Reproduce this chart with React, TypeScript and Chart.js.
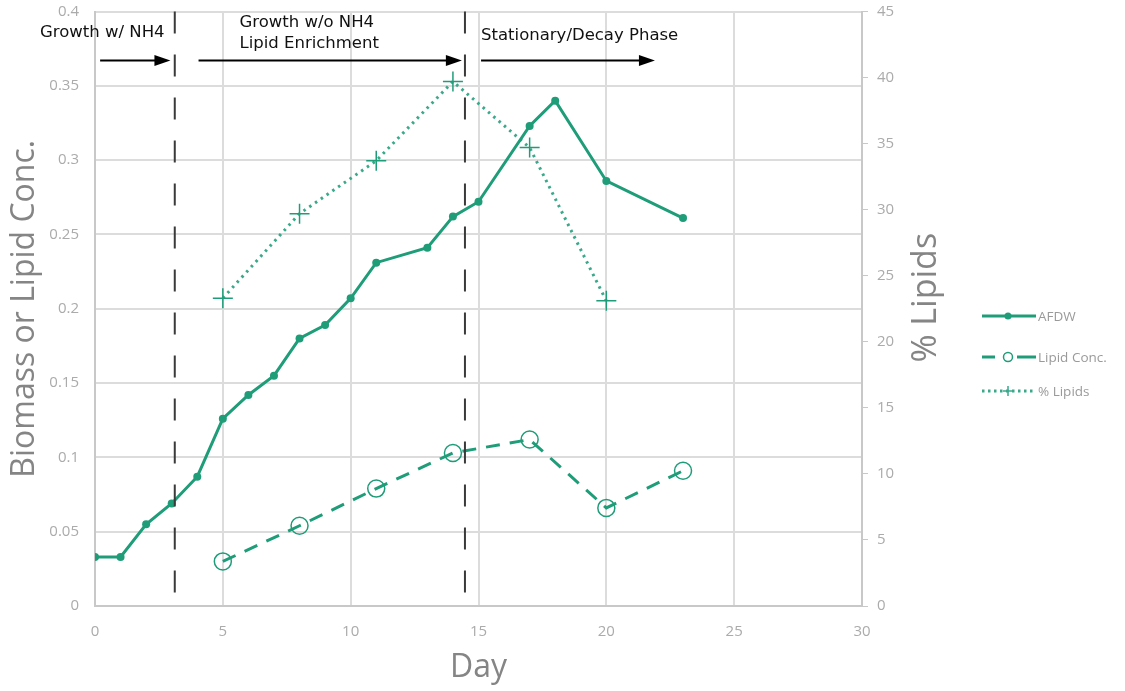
import React, { useEffect, useRef } from 'react';
import { Chart, registerables } from 'chart.js';

Chart.register(...registerables);

// ---- data ----
const afdwDays = [0, 1, 2, 3, 4, 5, 6, 7, 8, 9, 10, 11, 13, 14, 15, 17, 18, 20, 23];
const afdwValues = [0.033, 0.033, 0.055, 0.069, 0.087, 0.126, 0.142, 0.155, 0.18, 0.189, 0.207, 0.231, 0.241, 0.262, 0.272, 0.323, 0.34, 0.286, 0.261];
const lipidDays = [5, 8, 11, 14, 17, 20, 23];
const lipidConcValues = [0.03, 0.054, 0.079, 0.103, 0.112, 0.066, 0.091];
const pctDays = [5, 8, 11, 14, 17, 20];
const pctLipidValues = [23.3, 29.7, 33.7, 39.7, 34.7, 23.1];
const seriesNames = ['AFDW', 'Lipid Conc.', '% Lipids'];
const phaseBoundaries = [3.12, 14.47];
const phaseArrows = [
  [0.2, 2.95],
  [4.05, 14.35],
  [15.1, 21.9],
];
const phaseTexts = [
  { lines: ['Growth w/ NH4'], x: -2.15, y: [0.386] },
  { lines: ['Growth w/o NH4', 'Lipid Enrichment'], x: 5.65, y: [0.3925, 0.3785] },
  { lines: ['Stationary/Decay Phase'], x: 15.1, y: [0.3835] },
];
const arrowLevel = 0.367;

const GREEN = '#1f9d78';
const GREEN_DOT = '#3aa98a';
const TICK_COLOR = '#ababab';
const TITLE_COLOR = '#858585';
const GRID = '#dcdcdc';
const AXIS = '#c8c8c8';
const TICK_FONT = { size: 15, family: '"Open Sans"' };

const overlayPlugin = {
  id: 'overlay',
  afterDraw(chart: any) {
    const { ctx, scales, chartArea } = chart;
    const x = scales.x;
    const y = scales.y;
    ctx.save();
    // dashed phase boundaries
    ctx.strokeStyle = '#3a3a3a';
    ctx.lineWidth = 2;
    ctx.setLineDash([22, 21]);
    phaseBoundaries.forEach((d) => {
      const px = x.getPixelForValue(d);
      ctx.beginPath();
      ctx.moveTo(px, chartArea.top);
      ctx.lineTo(px, chartArea.bottom);
      ctx.stroke();
    });
    ctx.setLineDash([]);
    // arrows
    const ay = y.getPixelForValue(arrowLevel);
    ctx.strokeStyle = '#000';
    ctx.fillStyle = '#000';
    phaseArrows.forEach(([a, b]) => {
      const x1 = x.getPixelForValue(a);
      const x2 = x.getPixelForValue(b);
      ctx.lineWidth = 2;
      ctx.beginPath();
      ctx.moveTo(x1, ay);
      ctx.lineTo(x2 - 12, ay);
      ctx.stroke();
      ctx.beginPath();
      ctx.moveTo(x2, ay);
      ctx.lineTo(x2 - 16, ay - 5.5);
      ctx.lineTo(x2 - 16, ay + 5.5);
      ctx.closePath();
      ctx.fill();
    });
    // phase texts
    ctx.font = '16.5px "DejaVu Sans"';
    ctx.textAlign = 'left';
    ctx.textBaseline = 'middle';
    ctx.fillStyle = '#111';
    phaseTexts.forEach((t) => {
      const tx = x.getPixelForValue(t.x);
      t.lines.forEach((line, i) => {
        ctx.fillText(line, tx, y.getPixelForValue(t.y[i]));
      });
    });
    // right axis title
    ctx.save();
    ctx.translate(926, (chartArea.top + chartArea.bottom) / 2 - 11);
    ctx.rotate(-Math.PI / 2);
    ctx.font = '34px "Open Sans"';
    ctx.fillStyle = TITLE_COLOR;
    ctx.textAlign = 'center';
    ctx.textBaseline = 'middle';
    ctx.fillText('% Lipids', 0, 0);
    ctx.restore();
    // legend
    const lx1 = 982;
    const lx2 = 1036;
    const mx = 1008;
    const rows = [316, 357, 391];
    ctx.font = '13.5px "Open Sans"';
    ctx.textBaseline = 'middle';
    ctx.textAlign = 'left';
    // AFDW
    ctx.strokeStyle = GREEN;
    ctx.fillStyle = GREEN;
    ctx.lineWidth = 3;
    ctx.beginPath();
    ctx.moveTo(lx1, rows[0]);
    ctx.lineTo(lx2, rows[0]);
    ctx.stroke();
    ctx.beginPath();
    ctx.arc(mx, rows[0], 3.5, 0, Math.PI * 2);
    ctx.fill();
    // Lipid Conc.
    ctx.lineWidth = 3;
    ctx.beginPath();
    ctx.moveTo(lx1, rows[1]);
    ctx.lineTo(lx1 + 13, rows[1]);
    ctx.moveTo(mx + 9, rows[1]);
    ctx.lineTo(lx2, rows[1]);
    ctx.stroke();
    ctx.lineWidth = 1.5;
    ctx.beginPath();
    ctx.arc(mx, rows[1], 4.5, 0, Math.PI * 2);
    ctx.stroke();
    // % Lipids
    ctx.strokeStyle = GREEN_DOT;
    ctx.lineWidth = 3;
    ctx.setLineDash([2.5, 3.5]);
    ctx.beginPath();
    ctx.moveTo(lx1, rows[2]);
    ctx.lineTo(lx2, rows[2]);
    ctx.stroke();
    ctx.setLineDash([]);
    ctx.lineWidth = 1.5;
    ctx.beginPath();
    ctx.moveTo(mx - 5, rows[2]);
    ctx.lineTo(mx + 5, rows[2]);
    ctx.moveTo(mx, rows[2] - 5);
    ctx.lineTo(mx, rows[2] + 5);
    ctx.stroke();
    ctx.fillStyle = '#9a9a9a';
    seriesNames.forEach((n, i) => ctx.fillText(n, 1038, rows[i] + 1));
    ctx.restore();
  },
};

const fitVertical = (w: number) => (s: any) => {
  s.width = w;
  s.paddingTop = 0;
  s.paddingBottom = 0;
};

export default function App() {
  const ref = useRef<HTMLCanvasElement | null>(null);
  useEffect(() => {
    document.body.style.margin = '0';
    const canvas = ref.current!;
    const chart = new Chart(canvas, {
      type: 'line',
      data: {
        datasets: [
          {
            label: seriesNames[0],
            data: afdwDays.map((d, i) => ({ x: d, y: afdwValues[i] })),
            borderColor: GREEN,
            backgroundColor: GREEN,
            borderWidth: 3,
            pointRadius: 4,
            pointBorderWidth: 0,
            yAxisID: 'y',
          },
          {
            label: seriesNames[1],
            data: lipidDays.map((d, i) => ({ x: d, y: lipidConcValues[i] })),
            borderColor: GREEN,
            backgroundColor: 'rgba(0,0,0,0)',
            borderWidth: 3,
            borderDash: [14, 10],
            pointRadius: 8.5,
            pointBorderWidth: 1.5,
            pointBorderColor: GREEN,
            pointBackgroundColor: 'rgba(0,0,0,0)',
            yAxisID: 'y',
          },
          {
            label: seriesNames[2],
            data: pctDays.map((d, i) => ({ x: d, y: pctLipidValues[i] })),
            borderColor: GREEN_DOT,
            backgroundColor: GREEN_DOT,
            borderWidth: 3,
            borderDash: [2.5, 4.5],
            pointStyle: 'cross',
            pointRadius: 10,
            pointBorderWidth: 1.5,
            pointBorderColor: GREEN,
            yAxisID: 'y1',
          },
        ],
      },
      options: {
        responsive: false,
        animation: false,
        devicePixelRatio: 1,
        layout: { padding: { top: 11, right: 203, bottom: 0, left: 0 } },
        plugins: { legend: { display: false }, tooltip: { enabled: false } },
        scales: {
          x: {
            type: 'linear',
            min: 0,
            max: 30,
            ticks: { stepSize: 5, color: TICK_COLOR, font: TICK_FONT, padding: 17 },
            grid: { color: GRID, lineWidth: 2, drawTicks: false },
            border: { color: AXIS, width: 2 },
            title: {
              display: true,
              text: 'Day',
              color: TITLE_COLOR,
              font: { size: 32, family: '"Open Sans"' },
              padding: { top: 0, bottom: 4 },
            },
            afterFit: (s: any) => {
              s.height = 85;
              s.paddingLeft = 0;
              s.paddingRight = 0;
            },
          },
          y: {
            position: 'left',
            min: 0,
            max: 0.4,
            ticks: {
              stepSize: 0.05,
              color: TICK_COLOR,
              font: TICK_FONT,
              padding: 16,
              callback: (v: any) => String(Number(Number(v).toFixed(2))),
            },
            grid: { color: GRID, lineWidth: 2, drawTicks: false },
            border: { color: AXIS, width: 2 },
            title: {
              display: true,
              text: 'Biomass or Lipid Conc.',
              color: TITLE_COLOR,
              font: { size: 32, family: '"Open Sans"' },
              padding: { top: 6, bottom: 0 },
            },
            afterFit: fitVertical(95),
          },
          y1: {
            position: 'right',
            min: 0,
            max: 45,
            ticks: { stepSize: 5, color: TICK_COLOR, font: TICK_FONT, padding: 9 },
            grid: { drawOnChartArea: false, color: AXIS, tickLength: 6, lineWidth: 1 },
            border: { color: AXIS, width: 2 },
            afterFit: fitVertical(60),
          },
        },
      },
      plugins: [overlayPlugin],
    } as any);
    return () => chart.destroy();
  }, []);
  return (
    <div style={{ position: 'absolute', left: 0, top: 0, width: 1125, height: 691 }}>
      <canvas ref={ref} width={1125} height={691} />
    </div>
  );
}
